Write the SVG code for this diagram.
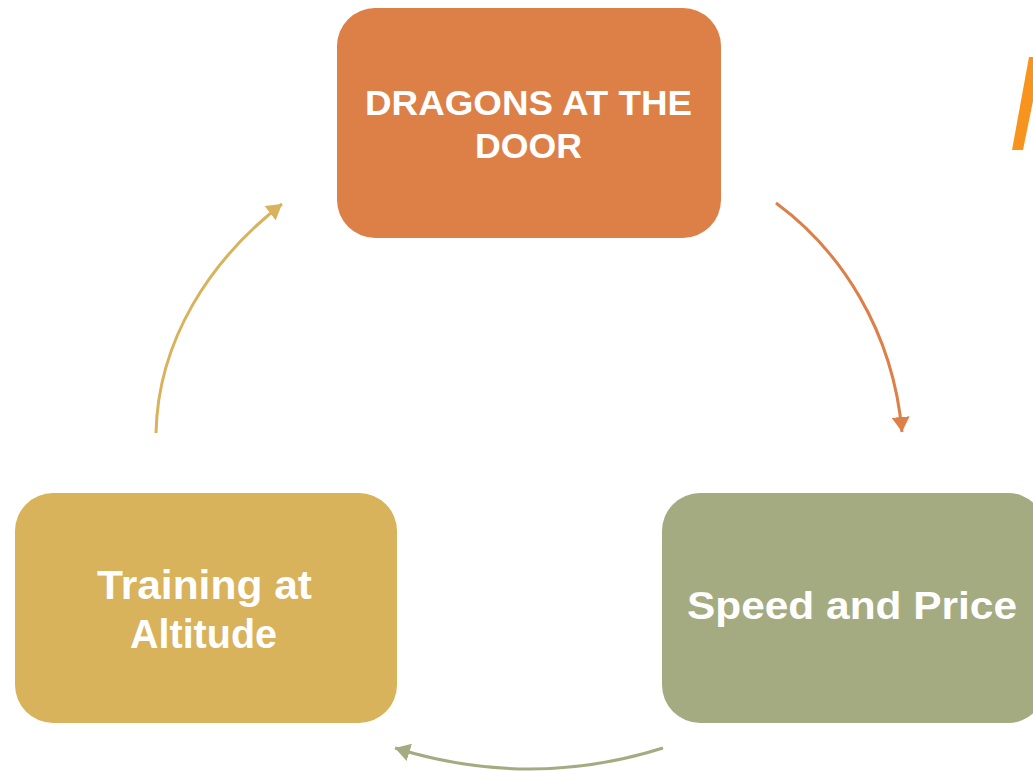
<svg xmlns="http://www.w3.org/2000/svg" width="1033" height="771" viewBox="0 0 1033 771">
<style>
.lbl{font-family:"Liberation Sans",Arial,sans-serif;font-weight:bold;fill:#ffffff;text-anchor:middle}
.conn{fill:none;stroke-width:3}
</style>
<defs>
<marker id="mo" markerWidth="6" markerHeight="6" refX="5" refY="3" orient="auto" markerUnits="strokeWidth"><path d="M0,0 L5,3 L0,6 z" fill="#DD8047"/></marker>
<marker id="mg" markerWidth="6" markerHeight="6" refX="5" refY="3" orient="auto" markerUnits="strokeWidth"><path d="M0,0 L5,3 L0,6 z" fill="#A5AB81"/></marker>
<marker id="my" markerWidth="6" markerHeight="6" refX="5" refY="3" orient="auto" markerUnits="strokeWidth"><path d="M0,0 L5,3 L0,6 z" fill="#D9B25C"/></marker>
</defs>
<rect width="1033" height="771" fill="#ffffff"/>
<polygon points="1012,150 1023,150 1042,57 1029,57" fill="#F7941D"/>
<g id="connectors">
<path class="conn" stroke="#DD8047" d="M776,203 C840,250 893,330 902,432" marker-end="url(#mo)"/>
<path class="conn" stroke="#A5AB81" d="M663,748 Q530,790 395,748" marker-end="url(#mg)"/>
<path class="conn" stroke="#D9B25C" d="M156,433 C158,340 210,260 282,204" marker-end="url(#my)"/>
</g>
<g id="node-dragons">
<rect x="337" y="8" width="384" height="230" rx="38" fill="#DD8047"/>
<text class="lbl" x="528.5" y="115" font-size="35" textLength="327" lengthAdjust="spacingAndGlyphs">DRAGONS AT THE</text>
<text class="lbl" x="528.5" y="158" font-size="35" textLength="107" lengthAdjust="spacingAndGlyphs">DOOR</text>
</g>
<g id="node-speed">
<rect x="662" y="493" width="384" height="230" rx="38" fill="#A5AB81"/>
<text class="lbl" x="852" y="619" font-size="39" textLength="330" lengthAdjust="spacingAndGlyphs">Speed and Price</text>
</g>
<g id="node-training">
<rect x="15" y="493" width="382" height="230" rx="38" fill="#D9B25C"/>
<text class="lbl" x="204.5" y="599" font-size="41" textLength="215" lengthAdjust="spacingAndGlyphs">Training at</text>
<text class="lbl" x="203.5" y="648" font-size="41" textLength="147" lengthAdjust="spacingAndGlyphs">Altitude</text>
</g>
</svg>
